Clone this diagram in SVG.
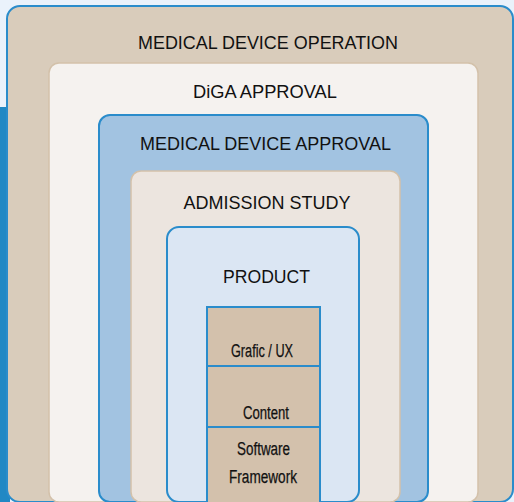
<svg xmlns="http://www.w3.org/2000/svg" width="514" height="502" viewBox="0 0 514 502">
<style>
.h{font-family:"Liberation Sans",Arial,sans-serif;font-size:17.5px;fill:#111;text-anchor:middle}
.s{font-family:"Liberation Sans",Arial,sans-serif;font-size:18px;fill:#111;text-anchor:middle;stroke:#111;stroke-width:0.25}
.blue{stroke:#2a8ccb;stroke-width:2}
.tan{stroke:#d3c1aa;stroke-width:1.5}
.cell{fill:#d3c1ac;stroke:#2a8ccb;stroke-width:2}
</style>
<rect x="0" y="0" width="514" height="502" fill="#eaf2fb"/>
<rect x="0" y="107" width="10" height="395" fill="#2188c4"/>
<g id="medical-device-operation">
<rect x="7" y="6" width="506" height="496" rx="13" fill="#d9ccbb" class="blue"/>
<text class="h" x="268" y="49" textLength="260" lengthAdjust="spacingAndGlyphs">MEDICAL DEVICE OPERATION</text>
</g>
<g id="diga-approval">
<rect x="49" y="63" width="429" height="439" rx="10" fill="#f5f2ef" class="tan"/>
<text class="h" x="265" y="98" textLength="144" lengthAdjust="spacingAndGlyphs">DiGA APPROVAL</text>
</g>
<g id="medical-device-approval">
<rect x="99" y="115" width="329" height="387" rx="11" fill="#a2c3e1" class="blue"/>
<text class="h" x="265.5" y="150" textLength="251" lengthAdjust="spacingAndGlyphs">MEDICAL DEVICE APPROVAL</text>
</g>
<g id="admission-study">
<rect x="131" y="171" width="269" height="331" rx="10" fill="#ece5df" class="tan"/>
<text class="h" x="267" y="209" textLength="167" lengthAdjust="spacingAndGlyphs">ADMISSION STUDY</text>
</g>
<g id="product">
<rect x="167" y="227" width="192" height="275" rx="12" fill="#dbe6f3" class="blue"/>
<text class="h" x="266.5" y="283" textLength="87" lengthAdjust="spacingAndGlyphs">PRODUCT</text>
</g>
<g id="grafic-ux">
<rect class="cell" x="207" y="307" width="113" height="59"/>
<text class="s" x="262" y="357" textLength="62" lengthAdjust="spacingAndGlyphs">Grafic / UX</text>
</g>
<g id="content">
<rect class="cell" x="207" y="366" width="113" height="61"/>
<text class="s" x="266" y="419" textLength="46" lengthAdjust="spacingAndGlyphs">Content</text>
</g>
<g id="software-framework">
<rect class="cell" x="207" y="427" width="113" height="80"/>
<text class="s" x="263.5" y="455" textLength="53" lengthAdjust="spacingAndGlyphs">Software</text>
<text class="s" x="263" y="483" textLength="68" lengthAdjust="spacingAndGlyphs">Framework</text>
</g>
<g id="connectors"/>
</svg>
